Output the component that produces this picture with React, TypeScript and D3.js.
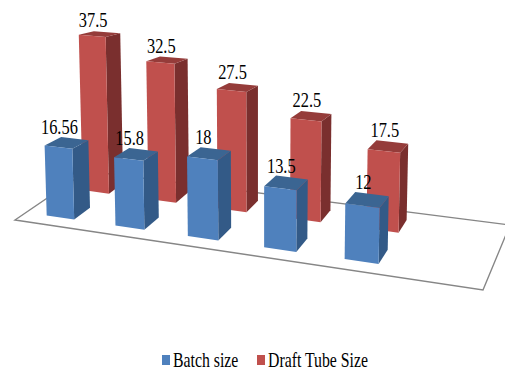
import React from "react";
import * as d3 from "d3";

// Five batches plus one empty slot on the floor of the 3-D plot.
const categories = ["A", "B", "C", "D", "E", "blank"];
const seriesNames = ["Batch size", "Draft Tube Size"];
const batchSize = [16.56, 15.8, 18, 13.5, 12];
const draftTubeSize = [37.5, 32.5, 27.5, 22.5, 17.5];
const valueLabels = [
  ["16.56", "15.8", "18", "13.5", "12"],
  ["37.5", "32.5", "27.5", "22.5", "17.5"],
];

const W = 505;
const H = 371;
const FONT = '"Liberation Serif", "Times New Roman", serif';

// Screen corners of the floor: front-left, front-right, back-right, back-left.
const floor: [number, number][] = [
  [15, 220],
  [483, 290],
  [510, 225],
  [87, 171],
];

// Perspective map of the unit square onto the floor quad.
function makeHomography(q: [number, number][]) {
  const [[x0, y0], [x1, y1], [x2, y2], [x3, y3]] = q;
  const dx1 = x1 - x2, dx2 = x3 - x2, sx = x0 - x1 + x2 - x3;
  const dy1 = y1 - y2, dy2 = y3 - y2, sy = y0 - y1 + y2 - y3;
  const den = dx1 * dy2 - dx2 * dy1;
  const g = (sx * dy2 - dx2 * sy) / den;
  const h = (dx1 * sy - sx * dy1) / den;
  const a = x1 - x0 + g * x1, b = x3 - x0 + h * x3;
  const d = y1 - y0 + g * y1, e = y3 - y0 + h * y3;
  return (u: number, v: number): [number, number] => {
    const w = g * u + h * v + 1;
    return [(a * u + b * v + x0) / w, (d * u + e * v + y0) / w];
  };
}
const project = makeHomography(floor);

const uScale = d3.scaleBand<string>().domain(categories).range([0, 1.012]).paddingInner(0.594).paddingOuter(0.31);
const vScale = d3.scaleBand<string>().domain(seriesNames).range([0, 1]).paddingInner(0.56).paddingOuter(0.28);

// Pixels per data unit, growing toward the viewer.
const unitByDepth = d3.scaleLinear().domain([0, 1]).range([4.22, 4.05]);
const unitByAcross = d3.scaleLinear().domain([0, 1]).range([1, 1.14]);
// Verticals converge slightly downward about this screen column.
const leanScale = d3.scaleLinear().domain([260, 360]).range([0, 0.014]);

function corner(u: number, v: number, value: number, back: boolean): [number, number] {
  const [x, y] = project(u, v);
  const k = unitByDepth(v) * unitByAcross(u) * (back ? 0.965 : 1);
  const h = value * k;
  return [x + leanScale(x) * h, y - h];
}

const face = (pts: [number, number][]) => (d3.line()(pts) ?? "") + "Z";

const palette = [
  { front: "#4f81bd", side: "#335a87", top: "#3b6592" },
  { front: "#c0504d", side: "#7a2f2e", top: "#953c3a" },
];
const seriesValues = [batchSize, draftTubeSize];

function Bar({ cat, s, value }: { cat: string; s: number; value: number }) {
  const u0 = uScale(cat)!;
  const u1 = u0 + uScale.bandwidth();
  const v0 = vScale(seriesNames[s])!;
  const v1 = v0 + vScale.bandwidth();
  const c = palette[s];
  const frontFace = [corner(u0, v0, 0, false), corner(u1, v0, 0, false), corner(u1, v0, value, false), corner(u0, v0, value, false)];
  const sideFace = [corner(u1, v0, 0, false), corner(u1, v1, 0, true), corner(u1, v1, value, true), corner(u1, v0, value, false)];
  const topFace = [corner(u0, v0, value, false), corner(u1, v0, value, false), corner(u1, v1, value, true), corner(u0, v1, value, true)];
  return (
    <g>
      <path d={face(sideFace)} fill={c.side} />
      <path d={face(topFace)} fill={c.top} />
      <path d={face(frontFace)} fill={c.front} />
    </g>
  );
}

// Serif text stretched tall and narrow, as the chart's labels are set.
function TallText({ x, y, sx, anchor, children }: { x: number; y: number; sx: number; anchor?: string; children: React.ReactNode }) {
  return (
    <text
      transform={`translate(${x},${y}) scale(${sx},1)`}
      textAnchor={anchor ?? "start"}
      fontFamily={FONT}
      fontSize={20}
      fill="#000"
    >
      {children}
    </text>
  );
}

function ValueLabel({ cat, s, value, label }: { cat: string; s: number; value: number; label: string }) {
  const uc = uScale(cat)! + uScale.bandwidth() * 0.5;
  const v = vScale(seriesNames[s])!;
  const [x] = corner(uc, v, value, false);
  const [, y] = corner(uc, v + vScale.bandwidth(), value, true);
  return <TallText x={x + 1} y={y - 5} sx={0.82} anchor="middle">{label}</TallText>;
}

export default function App() {
  const hull = (d3.line()(floor) ?? "") + "Z";
  return (
    <svg width={W} height={H} style={{ position: "absolute", left: 0, top: 0, background: "#fff" }}>
      <path d={hull} fill="none" stroke="#868686" strokeWidth={1.4} />
      {[1, 0].map((s) =>
        seriesValues[s].map((value, i) => (
          <Bar key={`${s}-${i}`} cat={categories[i]} s={s} value={value} />
        ))
      )}
      {[1, 0].map((s) =>
        seriesValues[s].map((value, i) => (
          <ValueLabel key={`${s}-${i}`} cat={categories[i]} s={s} value={value} label={valueLabels[s][i]} />
        ))
      )}
      <rect x={162} y={355} width={8} height={10} fill={palette[0].front} />
      <TallText x={173} y={367} sx={0.79}>{seriesNames[0]}</TallText>
      <rect x={257} y={355} width={8} height={10} fill={palette[1].front} />
      <TallText x={268} y={367} sx={0.79}>{seriesNames[1]}</TallText>
    </svg>
  );
}
